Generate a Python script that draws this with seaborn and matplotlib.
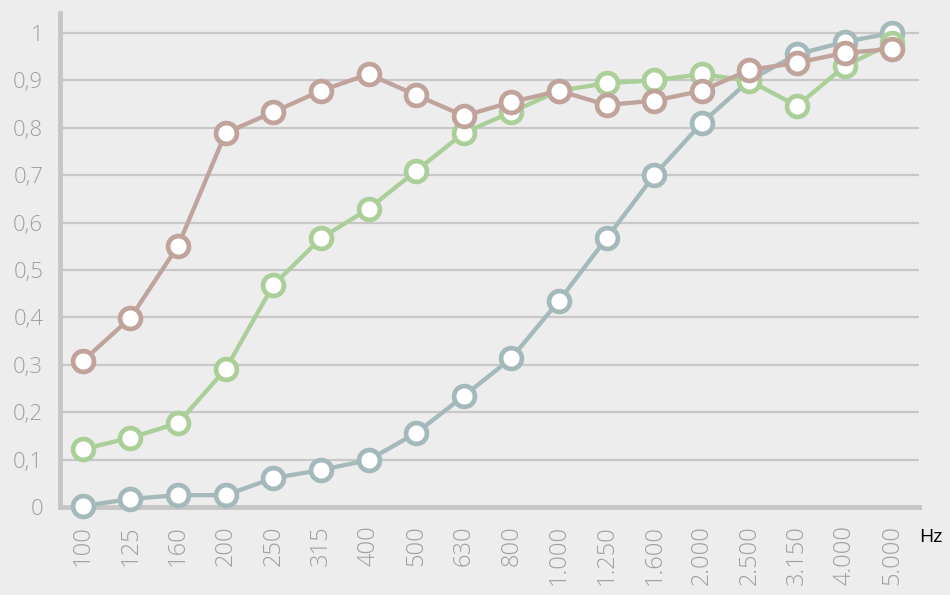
import matplotlib
matplotlib.use("Agg")
import matplotlib.pyplot as plt
import seaborn as sns
import pandas as pd
import numpy as np

# Frequency bands (Hz) and absorption coefficients per series
freq_labels = ["100", "125", "160", "200", "250", "315", "400", "500", "630", "800",
               "1.000", "1.250", "1.600", "2.000", "2.500", "3.150", "4.000", "5.000"]
series_blue = [0.002, 0.017, 0.025, 0.025, 0.061, 0.078, 0.099, 0.156, 0.234, 0.314,
               0.435, 0.567, 0.700, 0.810, 0.900, 0.955, 0.981, 1.000]
series_green = [0.122, 0.146, 0.177, 0.291, 0.468, 0.567, 0.629, 0.709, 0.789, 0.833,
                0.878, 0.894, 0.900, 0.913, 0.899, 0.846, 0.930, 0.979]
series_brown = [0.308, 0.399, 0.551, 0.789, 0.833, 0.878, 0.913, 0.869, 0.825, 0.854,
                0.878, 0.848, 0.857, 0.878, 0.922, 0.937, 0.958, 0.966]
y_ticks = [0, 0.1, 0.2, 0.3, 0.4, 0.5, 0.6, 0.7, 0.8, 0.9, 1.0]
y_labels = ["0", "0,1", "0,2", "0,3", "0,4", "0,5", "0,6", "0,7", "0,8", "0,9", "1"]
colors = {"blue": "#a4b9bc", "green": "#abcf98", "brown": "#c0a39b"}

pos = np.arange(len(freq_labels))
df = pd.concat([
    pd.DataFrame({"pos": pos, "value": series_blue, "series": "blue"}),
    pd.DataFrame({"pos": pos, "value": series_green, "series": "green"}),
    pd.DataFrame({"pos": pos, "value": series_brown, "series": "brown"}),
])

sns.set_style("white")
plt.rcParams["font.family"] = ["Open Sans", "DejaVu Sans"]

fig = plt.figure(figsize=(9.5, 5.95), dpi=100, facecolor="#ededed")
ax = fig.add_axes([60 / 950, 88 / 595, 859 / 950, 494 / 595])
ax.set_facecolor("#ededed")

for v in y_ticks[1:]:
    ax.axhline(v, color="#c8c8c8", lw=1.6, zorder=1)

sns.lineplot(data=df, x="pos", y="value", hue="series", palette=colors,
             marker="o", markersize=15, markerfacecolor="white", markeredgewidth=3.4,
             linewidth=3.1, legend=False, ax=ax, zorder=3, clip_on=False)
for line in ax.lines[-3:]:
    line.set_markeredgecolor(line.get_color())
    line.set_clip_on(False)

ax.set_xlim(-0.48, 17.56)
ax.set_ylim(0, 1.042)
ax.set_xticks(pos)
ax.set_xticklabels(freq_labels, rotation=90, fontsize=17, color="#a0a0a0", fontweight="light")
ax.set_yticks(y_ticks)
ax.set_yticklabels(y_labels, fontsize=16, color="#a0a0a0", fontweight="light")
ax.tick_params(axis="both", length=0)
ax.tick_params(axis="x", pad=13)
ax.tick_params(axis="y", pad=12)
ax.set_xlabel("")
ax.set_ylabel("")

for side in ["top", "right"]:
    ax.spines[side].set_visible(False)
for side in ["left", "bottom"]:
    ax.spines[side].set_color("#c6c6c6")
    ax.spines[side].set_linewidth(3.5)
    ax.spines[side].set_zorder(2)

fig.text(919 / 950, 1 - 537 / 595, "Hz", fontsize=14, color="black", fontweight="medium",
         va="center", ha="left")

fig.savefig("out.png", dpi=100, facecolor=fig.get_facecolor())
